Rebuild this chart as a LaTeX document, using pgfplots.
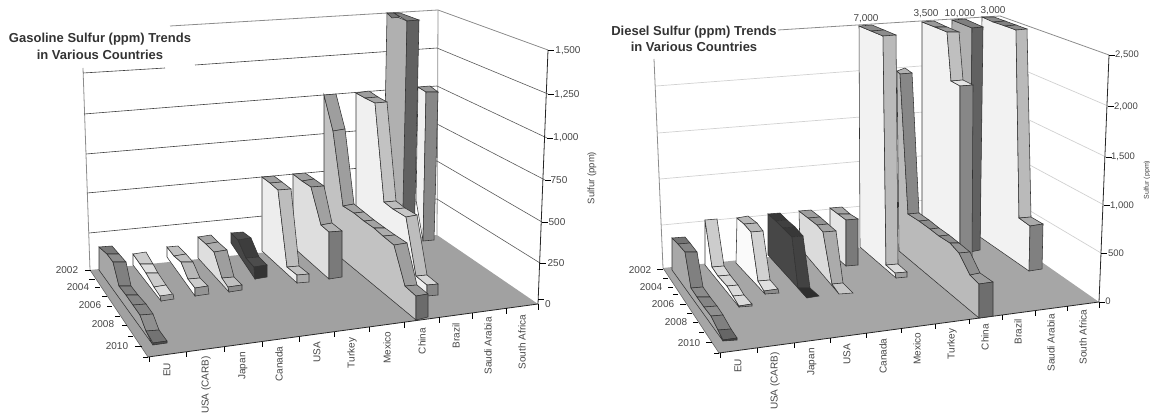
\documentclass[border=0pt]{standalone}
\usepackage{fontspec}
\setmainfont{Liberation Sans}
\usepackage{pgfplots}
\pgfplotsset{compat=1.18}
\definecolor{txt}{gray}{0.27}
\newcommand{\Q}[2]{\addplot[fill=black!#1,draw=black!80,line width=0.55pt] coordinates {#2} -- cycle;}
\newcommand{\LL}[3]{\addplot[draw=#1,line width=#2pt] coordinates {#3};}
\newcommand{\T}[4][0]{\node[rotate=#1,text=txt,inner sep=0pt,font=\fontsize{#2}{#2}\selectfont] at (axis cs:#3) {#4};}
\begin{document}
\begin{tikzpicture}
\begin{axis}[scale only axis,width=1150pt,height=414pt,xmin=0,xmax=1150,ymin=0,ymax=414,y dir=reverse,hide axis,clip=true,no markers]
\path (axis cs:0,0) (axis cs:1150,414);
% ============ LEFT PANEL: walls
\LL{black!45}{0.8}{(83,68)(90,270)}
\LL{black!45}{0.8}{(170,26)(438,10)}
\LL{black!45}{0.8}{(438,10)(437,235)}
\LL{black!45}{0.8}{(438,10)(548,50)}
\LL{black!75}{0.6}{(83,73)(165,68)}
\LL{black!75}{0.6}{(195,65)(437,48)}
\LL{black!75}{0.6}{(84,114)(437,86)}
\LL{black!75}{0.6}{(86,154)(437,124)}
\LL{black!75}{0.6}{(87,193)(437,161)}
\LL{black!75}{0.6}{(89,233)(437,199)}
\LL{black!65}{0.6}{(437,48)(548,94)}
\LL{black!65}{0.6}{(437,86)(547,138)}
\LL{black!65}{0.6}{(437,124)(545,180)}
\LL{black!65}{0.6}{(437,161)(542,222)}
\LL{black!65}{0.6}{(437,199)(540,263)}
\addplot[fill=black!37,draw=none] coordinates {(90,270)(437,235)(538,304)(148,357)} -- cycle;
\LL{black!85}{0.8}{(148,357)(538,304)}
\LL{black!85}{0.8}{(538,304)(548,50)}
\LL{black!60}{0.6}{(90,270)(148,357)}
% value ticks
\LL{black}{0.7}{(538,299)(544,299)} \LL{black}{0.7}{(540,263)(546,263)} \LL{black}{0.7}{(542,222)(548,222)}
\LL{black}{0.7}{(545,180)(551,180)} \LL{black}{0.7}{(547,138)(553,138)} \LL{black}{0.7}{(548,94)(554,94)} \LL{black}{0.7}{(548,50)(554,50)}
% depth ticks
\LL{black}{0.7}{(85,270)(91,270)} \LL{black}{0.7}{(89,279)(95,279)} \LL{black}{0.7}{(95,287)(100,287)} \LL{black}{0.7}{(102,296)(107,296)}
\LL{black}{0.7}{(107,306)(112,306)} \LL{black}{0.7}{(115,316)(120,316)} \LL{black}{0.7}{(122,325)(127,325)} \LL{black}{0.7}{(128,336)(133,336)}
\LL{black}{0.7}{(135,346)(142,346)} \LL{black}{0.7}{(143,357)(148,357)}
% category ticks
\LL{black}{0.7}{(149,357)(149,362)} \LL{black}{0.7}{(186,352)(186,357)} \LL{black}{0.7}{(224,347)(224,352)} \LL{black}{0.7}{(262,342)(262,347)}
\LL{black}{0.7}{(299,337)(299,342)} \LL{black}{0.7}{(334,332)(334,337)} \LL{black}{0.7}{(369,327)(369,332)} \LL{black}{0.7}{(404,322)(404,328)}
\LL{black}{0.7}{(439,317)(439,323)} \LL{black}{0.7}{(472,313)(472,319)} \LL{black}{0.7}{(506,308)(506,314)} \LL{black}{0.7}{(538,304)(538,310)}
% ribbon F
\Q{6}{(418,87)(426,92)(423,241)(416,200)}
\Q{40}{(418,87)(430,86)(438,92)(426,92)}
\Q{47}{(426,92)(438,92)(434,240)(423,241)}
% ribbon E
\Q{31}{(387,13)(407,21)(404,250)(383,230)}
\Q{55}{(387,13)(394,13)(400,17)(392,18)}
\Q{50}{(394,13)(400,13)(419,20)(407,21)}
\Q{62}{(407,21)(419,20)(414,250)(402,250)}
% ribbon D
\Q{6}{(356,93)(365,98)(375,103)(384,202)(393,209)(406,217)(416,276)(427,285)(427,296)(356,236)}
\Q{38}{(356,93)(369,91)(378,97)(365,98)}
\Q{35}{(365,98)(378,97)(387,102)(375,103)}
\Q{24}{(375,103)(387,102)(396,201)(384,202)}
\Q{26}{(384,202)(396,201)(405,208)(393,209)}
\Q{22}{(393,209)(405,208)(417,215)(406,217)}
\Q{26}{(406,217)(417,215)(427,275)(416,276)}
\Q{16}{(416,276)(427,275)(438,284)(427,285)}
\Q{47}{(427,285)(438,284)(438,295)(427,296)}
% ribbon C
\Q{24}{(324,95)(333,131)(343,206)(354,213)(364,221)(374,228)(383,236)(394,245)(405,286)(416,296)(416,320)(324,244)}
\Q{38}{(324,95)(336,94)(345,129)(333,131)}
\Q{38}{(333,131)(345,129)(354,204)(343,206)}
\Q{36}{(343,206)(354,204)(364,212)(354,213)}
\Q{34}{(354,213)(364,212)(374,220)(364,221)}
\Q{36}{(364,221)(374,220)(385,228)(374,228)}
\Q{32}{(374,228)(385,228)(395,235)(383,236)}
\Q{36}{(383,236)(395,235)(407,243)(394,245)}
\Q{38}{(394,245)(407,243)(417,285)(405,286)}
\Q{40}{(405,286)(417,285)(428,294)(416,296)}
\Q{58}{(416,296)(428,294)(428,317)(416,320)}
% ribbon B
\Q{13}{(293,174)(302,181)(311,187)(321,225)(329,232)(329,279)(293,247)}
\Q{38}{(293,174)(305,173)(314,179)(302,181)}
\Q{42}{(302,181)(314,179)(324,186)(311,187)}
\Q{37}{(311,187)(324,186)(332,223)(321,225)}
\Q{30}{(321,225)(332,223)(342,231)(329,232)}
\Q{52}{(329,232)(342,231)(342,277)(329,279)}
% ribbon A
\Q{7}{(262,177)(270,183)(278,190)(287,267)(297,275)(297,283)(262,251)}
\Q{38}{(262,177)(274,176)(282,182)(270,183)}
\Q{33}{(270,183)(282,182)(291,189)(278,190)}
\Q{26}{(278,190)(291,189)(299,266)(287,267)}
\Q{24}{(287,267)(299,266)(309,274)(297,275)}
\Q{33}{(297,275)(309,274)(309,282)(297,283)}
% dark ribbon
\Q{72}{(231,233)(238,240)(246,258)(254,267)(255,279)(231,243)}
\Q{70}{(231,233)(243,232)(251,238)(238,240)}
\Q{76}{(238,240)(251,238)(259,257)(246,258)}
\Q{70}{(246,258)(259,257)(267,265)(254,267)}
\Q{80}{(254,267)(267,265)(267,277)(255,279)}
% Canada position
\Q{13}{(198,237)(206,244)(214,252)(222,278)(228,287)(229,292)(198,258)}
\Q{35}{(198,237)(211,235)(218,242)(206,244)}
\Q{32}{(206,244)(218,242)(227,250)(214,252)}
\Q{38}{(214,252)(227,250)(234,277)(222,278)}
\Q{25}{(222,278)(234,277)(242,285)(228,287)}
\Q{45}{(228,287)(242,285)(242,290)(229,292)}
% Japan position
\Q{0}{(167,247)(174,256)(181,262)(188,279)(195,288)(195,296)(167,257)}
\Q{25}{(167,247)(178,246)(186,254)(174,256)}
\Q{25}{(174,256)(186,254)(193,262)(181,262)}
\Q{28}{(181,262)(193,262)(200,278)(188,279)}
\Q{20}{(188,279)(200,278)(208,286)(195,288)}
\Q{42}{(195,288)(208,286)(209,294)(195,296)}
% USA (CARB) position
\Q{0}{(133,254)(140,264)(146,273)(154,287)(160,296)(161,301)(133,265)}
\Q{20}{(133,254)(146,252)(153,264)(140,264)}
\Q{13}{(140,264)(153,264)(158,273)(146,273)}
\Q{20}{(146,273)(158,273)(166,285)(154,287)}
\Q{14}{(154,287)(166,285)(173,295)(160,296)}
\Q{40}{(160,296)(173,294)(174,299)(161,301)}
% EU
\Q{35}{(99,247)(107,254)(113,262)(119,286)(126,295)(133,305)(140,315)(146,331)(153,345)(99,270)}
\Q{53}{(99,247)(112,246)(119,254)(107,254)}
\Q{45}{(107,254)(119,254)(126,262)(113,262)}
\Q{50}{(113,262)(126,262)(131,286)(119,286)}
\Q{50}{(119,286)(131,286)(138,295)(126,295)}
\Q{48}{(126,295)(138,295)(146,304)(133,305)}
\Q{48}{(133,305)(146,304)(153,314)(140,315)}
\Q{44}{(140,315)(153,314)(159,330)(146,331)}
\Q{55}{(146,331)(159,330)(167,341)(153,343)}
\Q{70}{(153,343)(167,341)(167,343)(153,345)}
% ============ RIGHT PANEL: walls
\LL{black!45}{0.8}{(654,59)(663,268)}
\LL{black!45}{0.8}{(778,30)(1000,16)}
\LL{black!45}{0.8}{(1000,16)(1109,55)}
\LL{black!18}{0.7}{(656,86)(1000,60)}
\LL{black!18}{0.7}{(658,133)(1000,106)}
\LL{black!18}{0.7}{(660,179)(1000,149)}
\LL{black!18}{0.7}{(662,225)(1000,193)}
\LL{black!18}{0.7}{(1000,60)(1108,106)}
\LL{black!18}{0.7}{(1000,106)(1106,157)}
\LL{black!18}{0.7}{(1000,149)(1104,205)}
\LL{black!18}{0.7}{(1000,193)(1101,253)}
\addplot[fill=black!35,draw=none] coordinates {(663,268)(1000,233)(1099,302)(719,353)} -- cycle;
\LL{black!85}{0.8}{(719,353)(1099,302)}
\LL{black!85}{0.8}{(1099,302)(1109,55)}
\LL{black!60}{0.6}{(663,268)(719,353)}
\LL{black}{0.7}{(1099,302)(1105,302)} \LL{black}{0.7}{(1101,253)(1107,253)} \LL{black}{0.7}{(1104,205)(1110,205)}
\LL{black}{0.7}{(1106,157)(1112,157)} \LL{black}{0.7}{(1108,106)(1114,106)} \LL{black}{0.7}{(1109,55)(1115,55)}
\LL{black}{0.7}{(657,269)(663,269)} \LL{black}{0.7}{(663,278)(668,278)} \LL{black}{0.7}{(668,287)(673,287)} \LL{black}{0.7}{(673,294)(678,294)}
\LL{black}{0.7}{(680,304)(686,304)} \LL{black}{0.7}{(687,313)(692,313)} \LL{black}{0.7}{(693,322)(698,322)} \LL{black}{0.7}{(699,332)(704,332)}
\LL{black}{0.7}{(706,342)(712,342)} \LL{black}{0.7}{(714,353)(719,353)}
\LL{black}{0.7}{(720,353)(720,358)} \LL{black}{0.7}{(757,348)(757,353)} \LL{black}{0.7}{(794,343)(794,348)} \LL{black}{0.7}{(830,338)(830,343)}
\LL{black}{0.7}{(866,333)(866,338)} \LL{black}{0.7}{(901,328)(901,333)} \LL{black}{0.7}{(935,324)(935,329)} \LL{black}{0.7}{(969,319)(969,324)}
\LL{black}{0.7}{(1002,315)(1002,320)} \LL{black}{0.7}{(1035,311)(1035,316)} \LL{black}{0.7}{(1067,306)(1067,311)} \LL{black}{0.7}{(1099,302)(1099,308)}
% R1
\Q{5}{(982,17)(1016,30)(1019,218)(1030,226)(1029,271)(980,237)}
\Q{45}{(982,17)(994,17)(1005,21)(993,22)}
\Q{50}{(993,22)(1005,21)(1016,25)(1005,26)}
\Q{45}{(1005,26)(1016,25)(1027,29)(1016,30)}
\Q{27}{(1016,30)(1027,29)(1031,217)(1019,218)}
\Q{33}{(1019,218)(1031,217)(1043,224)(1030,226)}
\Q{50}{(1030,226)(1043,224)(1042,269)(1029,271)}
% R2
\Q{31}{(952,20)(972,28)(970,252)(950,240)}
\Q{50}{(952,20)(965,19)(983,27)(972,28)}
\Q{62}{(972,28)(983,27)(980,250)(970,252)}
% R3
\Q{5}{(922,22)(947,32)(951,81)(960,86)(960,260)(922,216)}
\Q{40}{(922,22)(934,21)(947,27)(935,27)}
\Q{40}{(935,27)(947,27)(959,32)(947,32)}
\Q{25}{(947,32)(959,32)(963,80)(951,81)}
\Q{10}{(951,81)(963,80)(973,85)(960,86)}
\Q{47}{(960,86)(973,85)(972,258)(960,260)}
% R4
\Q{27}{(897,71)(900,74)(908,214)(919,221)(930,229)(939,236)(950,243)(959,253)(970,275)(979,284)(979,318)(899,251)}
\Q{30}{(897,71)(905,68)(912,73)(900,74)}
\Q{47}{(900,74)(912,73)(919,213)(908,214)}
\Q{40}{(908,214)(919,213)(929,220)(919,221)}
\Q{45}{(919,221)(929,220)(939,228)(930,229)}
\Q{40}{(930,229)(939,228)(949,235)(939,236)}
\Q{45}{(939,236)(949,235)(959,243)(950,243)}
\Q{42}{(950,243)(959,243)(970,252)(959,253)}
\Q{44}{(959,253)(970,252)(980,273)(970,275)}
\Q{38}{(970,275)(980,273)(993,282)(979,284)}
\Q{57}{(979,284)(993,282)(993,316)(979,318)}
% R5
\Q{5}{(859,26)(883,36)(886,265)(895,273)(896,278)(860,247)}
\Q{45}{(859,26)(872,25)(884,30)(871,31)}
\Q{45}{(871,31)(884,30)(896,35)(883,36)}
\Q{27}{(883,36)(896,35)(898,264)(886,265)}
\Q{14}{(886,265)(898,264)(907,272)(895,273)}
\Q{38}{(895,273)(907,272)(907,277)(896,278)}
% R6
\Q{10}{(830,208)(846,220)(846,266)(830,252)}
\Q{35}{(830,208)(842,207)(850,214)(838,214)}
\Q{35}{(838,214)(850,214)(858,219)(846,220)}
\Q{52}{(846,220)(858,219)(858,265)(846,266)}
% R7
\Q{14}{(799,211)(808,218)(817,225)(823,232)(832,284)(839,294)(800,248)}
\Q{38}{(799,211)(811,210)(820,217)(808,218)}
\Q{42}{(808,218)(820,217)(828,224)(817,225)}
\Q{36}{(817,225)(828,224)(836,231)(823,232)}
\Q{33}{(823,232)(836,231)(843,283)(832,284)}
\Q{22}{(832,284)(843,283)(853,293)(839,294)}
% R8
\Q{72}{(768,214)(776,221)(783,228)(792,237)(798,288)(807,298)(768,255)}
\Q{78}{(768,214)(780,213)(787,220)(776,221)}
\Q{75}{(776,221)(787,220)(795,227)(783,228)}
\Q{78}{(783,228)(795,227)(803,236)(792,237)}
\Q{74}{(792,237)(803,236)(810,288)(798,288)}
\Q{82}{(798,288)(810,288)(819,296)(807,298)}
% R9
\Q{2}{(737,218)(744,224)(751,232)(758,281)(764,291)(765,294)(736,263)}
\Q{28}{(737,218)(748,216)(757,223)(744,224)}
\Q{28}{(744,224)(757,223)(763,231)(751,232)}
\Q{18}{(751,232)(763,231)(770,280)(758,281)}
\Q{12}{(758,281)(770,280)(778,289)(764,291)}
\Q{45}{(764,291)(778,289)(779,293)(765,294)}
% R10
\Q{0}{(705,220)(712,267)(718,276)(727,286)(733,296)(739,306)(739,307)(705,265)}
\Q{20}{(705,220)(717,219)(724,266)(712,267)}
\Q{14}{(712,267)(724,266)(730,275)(718,276)}
\Q{16}{(718,276)(730,275)(738,285)(727,286)}
\Q{14}{(727,286)(738,285)(744,295)(733,296)}
\Q{14}{(733,296)(744,295)(752,304)(739,306)}
\Q{45}{(739,306)(752,304)(752,306)(739,307)}
% R11 EU
\Q{34}{(672,238)(678,244)(685,252)(691,288)(697,297)(704,307)(711,316)(718,330)(723,341)(672,270)}
\Q{55}{(672,238)(685,237)(690,243)(678,244)}
\Q{48}{(678,244)(690,243)(697,252)(685,252)}
\Q{50}{(685,252)(697,252)(703,287)(691,288)}
\Q{45}{(691,288)(703,287)(710,297)(697,297)}
\Q{48}{(697,297)(710,297)(717,306)(704,307)}
\Q{44}{(704,307)(717,306)(723,315)(711,316)}
\Q{50}{(711,316)(723,315)(731,329)(718,330)}
\Q{60}{(718,330)(731,329)(737,338)(723,340)}
\Q{75}{(723,340)(737,338)(737,340)(723,341)}
% ============ TEXT
\node[text=black!80,align=center,inner sep=0pt,font=\fontsize{13}{17}\selectfont\bfseries] at (axis cs:100,46) {Gasoline Sulfur (ppm) Trends\\in Various Countries};
\node[text=black!80,align=center,inner sep=0pt,font=\fontsize{13}{16}\selectfont\bfseries] at (axis cs:694,39) {Diesel Sulfur (ppm) Trends\\in Various Countries};
\T[90]{9.5}{592,178}{Sulfur (ppm)}
\T[90]{7}{1147,180}{Sulfur (ppm)}
% left value labels
\T{10}{548,304}{0} \T{10}{556,263}{250} \T{10}{557,222}{500} \T{10}{559,180}{750}
\T{10}{566,138}{1,000} \T{10}{567,95}{1,250} \T{10}{568,51}{1,500}
% left depth labels
\T{10}{67,270}{2002} \T{10}{78,287}{2004} \T{10}{90,305}{2006} \T{10}{103,324}{2008} \T{10}{117,346}{2010}
% left categories
\T[90]{10}{167,370}{EU} \T[90]{10}{206,385}{USA (CARB)} \T[90]{10}{243,366}{Japan} \T[90]{10}{279,364}{Canada}
\T[90]{10}{317,352}{USA} \T[90]{10}{352,353}{Turkey} \T[90]{10}{387,348}{Mexico} \T[90]{10}{422,341}{China}
\T[90]{10}{456,336}{Brazil} \T[90]{10}{488,346}{Saudi Arabia} \T[90]{10}{522,342}{South Africa}
% right value labels
\T{9.5}{1108,301}{0} \T{9.5}{1116,253}{500} \T{9.5}{1122,206}{1,000} \T{9.5}{1123,157}{1,500} \T{9.5}{1126,107}{2,000} \T{9.5}{1127,55}{2,500}
% right depth labels
\T{10}{640,270}{2002} \T{10}{651,287}{2004} \T{10}{663,304}{2006} \T{10}{676,322}{2008} \T{10}{689,343}{2010}
% right categories
\T[90]{10}{738,366}{EU} \T[90]{10}{775,381}{USA (CARB)} \T[90]{10}{812,362}{Japan} \T[90]{10}{847,354}{USA}
\T[90]{10}{883,356}{Canada} \T[90]{10}{917,349}{Mexico} \T[90]{10}{952,344}{Turkey} \T[90]{10}{985,337}{China}
\T[90]{10}{1018,332}{Brazil} \T[90]{10}{1051,343}{Saudi Arabia} \T[90]{10}{1083,337}{South Africa}
% off-scale data labels
\T{10}{866,19}{7,000} \T{10}{926,14}{3,500} \T{10}{960,14}{10,000} \T{10}{993,11}{3,000}
\end{axis}
\end{tikzpicture}
\end{document}
